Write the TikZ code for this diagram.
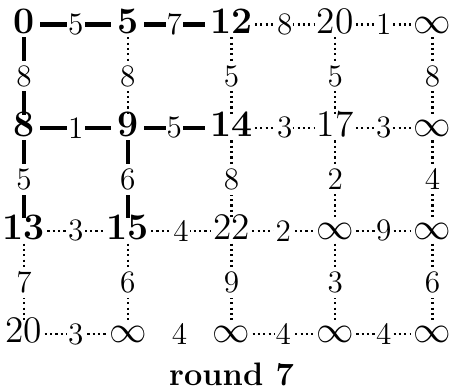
\documentclass[tikz,border=0pt]{standalone}
\begin{document}
\begin{tikzpicture}[x=0.3846pt,y=-0.3846pt,
  vtx/.style={font=\fontsize{14.4}{17}\selectfont, anchor=base, text height=0.68em, text depth=0pt, inner xsep=0.7pt, inner ysep=1.3pt},
  vis/.style={vtx, font=\fontsize{14.4}{17}\selectfont\bfseries},
  lab/.style={font=\fontsize{12}{14}\selectfont, fill=white, inner xsep=0.4pt, inner ysep=1.8pt},
  tree/.style={line width=1.65pt},
  htree/.style={tree, shorten <=1.3pt, shorten >=1.3pt},
  open/.style={line width=0.85pt, dash pattern=on 0.85pt off 1.2pt},
  hidden/.style={draw=none}]
\useasboundingbox (0,0) rectangle (454,392);
% row 1
\node[vis] (n11) at (24,33.3) {0};
\node[vis] (n12) at (127.75,33.3) {5};
\node[vis] (n13) at (231.5,33.3) {12};
\node[vtx] (n14) at (335.25,33.3) {20};
\node[vtx] (n15) at (432.5,33.3) {$\infty$};
% row 2
\node[vis] (n21) at (24,136.5) {8};
\node[vis] (n22) at (127.75,136.5) {9};
\node[vis] (n23) at (231.5,136.5) {14};
\node[vtx] (n24) at (335.25,136.5) {17};
\node[vtx] (n25) at (432.5,136.5) {$\infty$};
% row 3
\node[vis] (n31) at (24,239.7) {13};
\node[vis] (n32) at (127.75,239.7) {15};
\node[vtx] (n33) at (231.5,239.7) {22};
\node[vtx] (n34) at (335.25,239.7) {$\infty$};
\node[vtx] (n35) at (432.5,239.7) {$\infty$};
% row 4
\node[vtx] (n41) at (24,343) {20};
\node[vtx] (n42) at (127.75,343) {$\infty$};
\node[vtx] (n43) at (231.5,343) {$\infty$};
\node[vtx] (n44) at (335.25,343) {$\infty$};
\node[vtx] (n45) at (432.5,343) {$\infty$};
% horizontal edges
\draw[htree] (n11) -- node[lab]{5} (n12);
\draw[htree] (n12) -- node[lab]{7} (n13);
\draw[open] (n13) -- node[lab]{8} (n14);
\draw[open] (n14) -- node[lab]{1} (n15);
\draw[htree] (n21) -- node[lab]{1} (n22);
\draw[htree] (n22) -- node[lab]{5} (n23);
\draw[open] (n23) -- node[lab]{3} (n24);
\draw[open] (n24) -- node[lab]{3} (n25);
\draw[open] (n31) -- node[lab]{3} (n32);
\draw[open] (n32) -- node[lab]{4} (n33);
\draw[open] (n33) -- node[lab]{2} (n34);
\draw[open] (n34) -- node[lab]{9} (n35);
\draw[open] (n41) -- node[lab]{3} (n42);
\path[hidden] (n42) -- node[lab]{4} (n43);
\draw[open] (n43) -- node[lab]{4} (n44);
\draw[open] (n44) -- node[lab]{4} (n45);
% vertical edges
\draw[tree] (n11) -- node[lab]{8} (n21);
\draw[open] (n12) -- node[lab]{8} (n22);
\draw[open] (n13) -- node[lab]{5} (n23);
\draw[open] (n14) -- node[lab]{5} (n24);
\draw[open] (n15) -- node[lab]{8} (n25);
\draw[tree] (n21) -- node[lab]{5} (n31);
\draw[tree] (n22) -- node[lab]{6} (n32);
\draw[open] (n23) -- node[lab]{8} (n33);
\draw[open] (n24) -- node[lab]{2} (n34);
\draw[open] (n25) -- node[lab]{4} (n35);
\draw[open] (n31) -- node[lab]{7} (n41);
\draw[open] (n32) -- node[lab]{6} (n42);
\draw[open] (n33) -- node[lab]{9} (n43);
\draw[open] (n34) -- node[lab]{3} (n44);
\draw[open] (n35) -- node[lab]{6} (n45);
% title
\node[font=\fontsize{12.5}{15}\selectfont\bfseries, anchor=base] (title) at (231.5,386) {round 7};
\end{tikzpicture}
\end{document}
